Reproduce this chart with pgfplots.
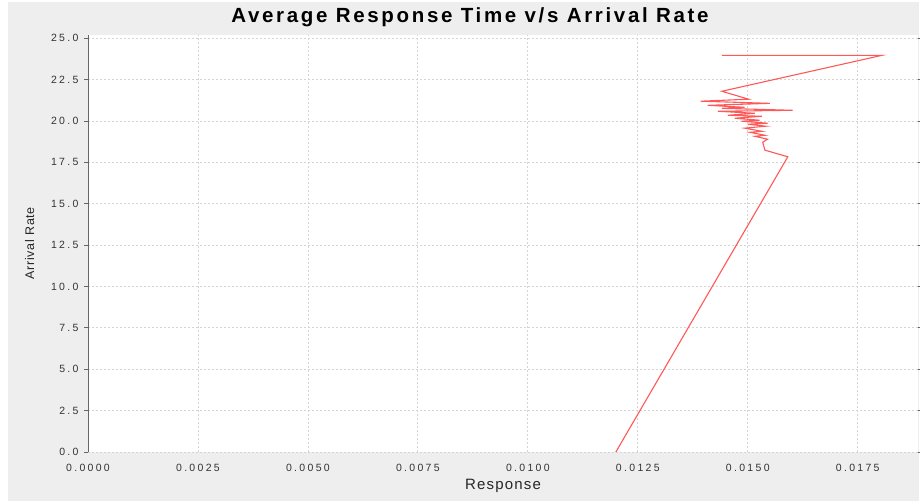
\documentclass[border=0pt]{standalone}
\usepackage{pgfplots}
\pgfplotsset{compat=1.18}
\usepackage{fontspec}
\setmainfont{Liberation Sans}
\newfontfamily\titlefont[LetterSpace=13]{Liberation Sans}
\newfontfamily\tickfont[LetterSpace=22]{Liberation Sans}
\newfontfamily\xlabfont[LetterSpace=8]{Liberation Sans}
\newfontfamily\ylabfont[LetterSpace=6]{Liberation Sans}
\definecolor{bggray}{HTML}{EEEEEE}
\definecolor{gridgray}{HTML}{D4D4D4}
\definecolor{ser}{HTML}{FF5858}
\begin{document}
\begin{tikzpicture}[x=1pt,y=1pt]
\useasboundingbox (0,0) rectangle (920,501);
\fill[white] (0,0) rectangle (920,501);
\fill[bggray] (8,0) rectangle (919,499);
\node[anchor=base, font=\titlefont\bfseries\fontsize{20.5}{24}\selectfont] at (470,478) {Average Response Time v/s Arrival Rate};
\begin{axis}[
  at={(88pt,49pt)}, anchor=south west,
  scale only axis, width=830pt, height=417pt,
  xmin=0, xmax=0.01887, ymin=0, ymax=25.2,
  axis background/.style={fill=white},
  axis line style={draw=none},
  /pgf/number format/assume math mode=true,
  xtick={0,0.0025,0.005,0.0075,0.01,0.0125,0.015,0.0175},
  ytick={0,2.5,5,7.5,10,12.5,15,17.5,20,22.5,25},
  x tick label style={/pgf/number format/fixed, /pgf/number format/fixed zerofill, /pgf/number format/precision=4, yshift=-5pt},
  y tick label style={/pgf/number format/fixed, /pgf/number format/fixed zerofill, /pgf/number format/precision=1, xshift=-2pt},
  scaled x ticks=false,
  ticklabel style={font=\tickfont\fontsize{10.5}{12}\selectfont, text=black!80},
  xtick style={draw=none},
  ytick style={draw=black!60, line width=0.8pt},
  tick align=outside, major tick length=4pt,
  grid=major,
  major grid style={gridgray, dash pattern=on 2pt off 2pt, line width=0.8pt},
  xlabel={Response}, ylabel={Arrival Rate},
  xlabel style={font=\xlabfont\fontsize{15}{17}\selectfont, text=black!85, at={(axis description cs:0.5,0)}, anchor=base, yshift=-37.3pt},
  ylabel style={font=\ylabfont\fontsize{12.5}{14}\selectfont, text=black!85, at={(axis description cs:0,0.5)}, anchor=base, yshift=54pt},
  clip=true,
]
\draw[black!60, line width=0.8pt] (axis cs:0,0) -- (axis cs:0,25.2);
\addplot[ser, line width=1.1pt, mark=none] coordinates {
(0.01200,0.00)
(0.01591,17.84)
(0.01539,18.24)
(0.01534,18.72)
(0.01545,18.90)
(0.01516,19.08)
(0.01539,19.14)
(0.01505,19.32)
(0.01532,19.38)
(0.01493,19.57)
(0.01541,19.69)
(0.01500,19.81)
(0.01545,19.87)
(0.01486,19.99)
(0.01527,20.05)
(0.01470,20.17)
(0.01532,20.29)
(0.01455,20.35)
(0.01516,20.47)
(0.01432,20.59)
(0.01602,20.65)
(0.01441,20.77)
(0.01493,20.83)
(0.01409,20.95)
(0.01550,21.07)
(0.01393,21.20)
(0.01502,21.32)
(0.01441,21.80)
(0.01805,23.97)
(0.01441,23.97)
};
\end{axis}
\end{tikzpicture}
\end{document}
